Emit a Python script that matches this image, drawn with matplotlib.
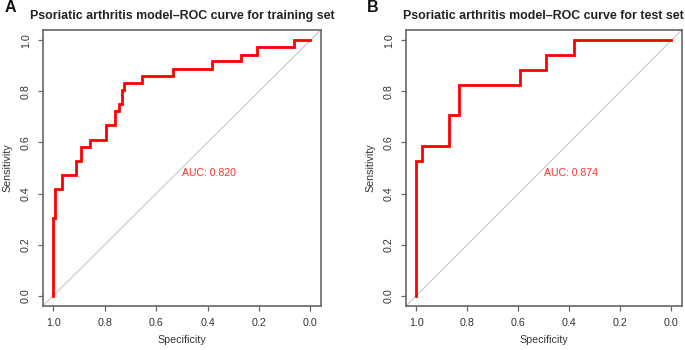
import matplotlib
matplotlib.use("Agg")
import matplotlib.pyplot as plt

plt.rcParams['font.family'] = ['Liberation Sans', 'DejaVu Sans']

# ROC curve vertices (specificity, sensitivity)
train_spec = [1.0, 1.0, 0.994, 0.994, 0.966, 0.966, 0.910, 0.910, 0.893, 0.893,
              0.858, 0.858, 0.795, 0.795, 0.760, 0.760, 0.745, 0.745, 0.733, 0.733,
              0.724, 0.724, 0.655, 0.655, 0.535, 0.535, 0.382, 0.382, 0.270, 0.270,
              0.208, 0.208, 0.062, 0.062, 0.0]
train_sens = [0.0, 0.306, 0.306, 0.417, 0.417, 0.472, 0.472, 0.528, 0.528, 0.583,
              0.583, 0.611, 0.611, 0.667, 0.667, 0.722, 0.722, 0.750, 0.750, 0.806,
              0.806, 0.833, 0.833, 0.861, 0.861, 0.889, 0.889, 0.917, 0.917, 0.944,
              0.944, 0.972, 0.972, 1.0, 1.0]

test_spec = [1.0, 1.0, 0.978, 0.978, 0.873, 0.873, 0.831, 0.831, 0.595, 0.595,
             0.492, 0.492, 0.383, 0.383, 0.0]
test_sens = [0.0, 0.529, 0.529, 0.588, 0.588, 0.706, 0.706, 0.824, 0.824, 0.882,
             0.882, 0.941, 0.941, 1.0, 1.0]

titles = ["Psoriatic arthritis model\u2013ROC curve for training set",
          "Psoriatic arthritis model\u2013ROC curve for test set"]
auc_labels = ["AUC: 0.820", "AUC: 0.874"]
panel_labels = ["A", "B"]
ticks = [0.0, 0.2, 0.4, 0.6, 0.8, 1.0]
tick_labels = ["0.0", "0.2", "0.4", "0.6", "0.8", "1.0"]

W, H = 685, 350
fig = plt.figure(figsize=(W / 100, H / 100), dpi=100)

boxes = [(43, 320.7), (406, 681.7)]
top_px, bot_px = 30, 306
frame_col = "#666666"
text_col = "#333333"

data = [(train_spec, train_sens), (test_spec, test_sens)]
for i, ((l, r), (sx, sy)) in enumerate(zip(boxes, data)):
    ax = fig.add_axes([l / W, 1 - bot_px / H, (r - l) / W, (bot_px - top_px) / H])
    ax.set_xlim(1.04, -0.04)
    ax.set_ylim(-0.04, 1.04)
    ax.axline((1, 0), (0, 1), color="#c8c8c8", lw=0.8, zorder=1)
    ax.plot(sx, sy, color="#ff0000", lw=2.0, solid_joinstyle="miter", zorder=3)
    ax.text(0.5, 0.5, auc_labels[i], color="#ff3030", ha="left", va="top", fontsize=7.6)
    ax.set_xticks(ticks)
    ax.set_xticklabels(tick_labels)
    ax.set_yticks(ticks)
    ax.set_yticklabels(tick_labels, rotation=90, va="center")
    ax.tick_params(direction="out", length=3.3, width=0.9, color=frame_col,
                   labelsize=7.7, labelcolor=text_col, pad=5.5)
    for s in ax.spines.values():
        s.set_color(frame_col)
        s.set_linewidth(1.2)
    ax.set_xlabel("Specificity", fontsize=7.7, color=text_col, labelpad=5)
    ax.set_ylabel("Sensitivity", fontsize=7.7, color=text_col, labelpad=6)
    ax.set_title(titles[i], fontsize=8.9, fontweight="bold", color="#222222", pad=8)
    lx = [10, 373][i]
    fig.text(lx / W, 1 - 8 / H, panel_labels[i], fontsize=11.5, fontweight="bold",
             ha="center", va="center", color="#111111")

fig.savefig("out.png", dpi=100)
